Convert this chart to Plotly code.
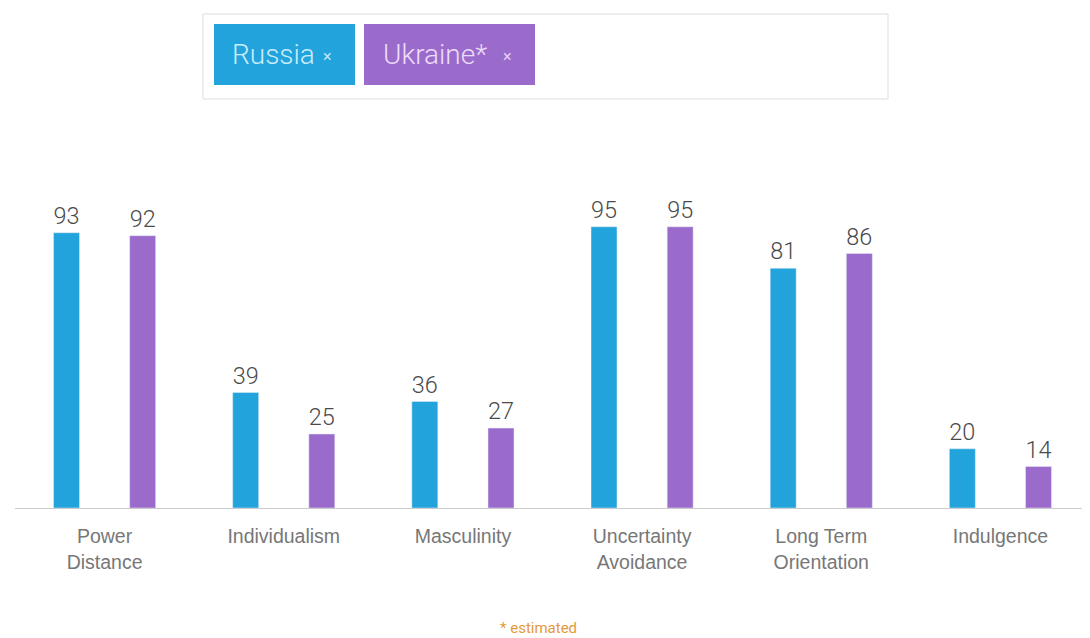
import plotly.graph_objects as go

categories = ["Power<br>Distance", "Individualism", "Masculinity", "Uncertainty<br>Avoidance", "Long Term<br>Orientation", "Indulgence"]
russia = [93, 39, 36, 95, 81, 20]
ukraine = [92, 25, 27, 95, 86, 14]

BLUE = "#22a3dc"
PURPLE = "#9b6bcc"

# page body has an 8px margin, so design in target coords and shift by 8
OFF = 8
W, H = 1090, 638
L = 15 - OFF
T = 212 - OFF
PW = 1075
PH = 296
R = W - L - PW
B = H - T - PH

def px(x):
    return (x - OFF - L) / PW

def py(y):
    return (T + PH - (y - OFF)) / PH

fig = go.Figure()
xs = list(range(len(categories)))
num_font = dict(family="Roboto", size=24, color="#4a4a4a", weight=300)
fig.add_trace(go.Bar(x=xs, y=russia, name="Russia", marker_color=BLUE, width=0.145, offset=-0.285,
                     text=[str(v) for v in russia], textposition="outside", textfont=num_font,
                     cliponaxis=False))
fig.add_trace(go.Bar(x=xs, y=ukraine, name="Ukraine*", marker_color=PURPLE, width=0.145, offset=0.14,
                     text=[str(v) for v in ukraine], textposition="outside", textfont=num_font,
                     cliponaxis=False))

shapes = [
    dict(type="rect", xref="paper", yref="paper", x0=px(203), x1=px(888), y0=py(99), y1=py(14),
         line=dict(color="#dddddd", width=1), fillcolor="white", layer="below"),
    dict(type="rect", xref="paper", yref="paper", x0=px(214), x1=px(355), y0=py(85), y1=py(24),
         line=dict(width=0), fillcolor=BLUE),
    dict(type="rect", xref="paper", yref="paper", x0=px(364), x1=px(535), y0=py(85), y1=py(24),
         line=dict(width=0), fillcolor=PURPLE),
]
annotations = [
    dict(xref="paper", yref="paper", x=px(230), y=py(55), text="Russia", showarrow=False,
         xanchor="left", yanchor="middle", font=dict(family="Roboto", size=28, color="#c9ecfb", weight=300)),
    dict(xref="paper", yref="paper", x=px(327), y=py(56), text="×", showarrow=False,
         xanchor="center", yanchor="middle", font=dict(family="Roboto", size=16, color="#bfe6f8")),
    dict(xref="paper", yref="paper", x=px(381), y=py(55), text="Ukraine*", showarrow=False,
         xanchor="left", yanchor="middle", font=dict(family="Roboto", size=28, color="#ecdcfa", weight=300)),
    dict(xref="paper", yref="paper", x=px(507), y=py(56), text="×", showarrow=False,
         xanchor="center", yanchor="middle", font=dict(family="Roboto", size=16, color="#e2d2f4")),
    dict(xref="paper", yref="paper", x=px(538), y=py(628), text="* estimated", showarrow=False,
         xanchor="center", yanchor="middle", font=dict(family="Roboto", size=15, color="#e39a3b")),
]

fig.update_layout(
    width=W, height=H,
    margin=dict(l=L, r=R, t=T, b=B),
    paper_bgcolor="white", plot_bgcolor="white",
    showlegend=False, barmode="overlay",
    shapes=shapes, annotations=annotations,
    xaxis=dict(tickmode="array", tickvals=xs, ticktext=categories, range=[-0.5, 5.5],
               showgrid=False, zeroline=False, showline=True, linecolor="#cccccc", linewidth=1,
               ticks="outside", ticklen=11, tickcolor="rgba(0,0,0,0)",
               tickfont=dict(family="Liberation Sans", size=19.5, color="#777777")),
    yaxis=dict(range=[0, 100], visible=False, showgrid=False, zeroline=False),
)

fig.write_html("out.html")
